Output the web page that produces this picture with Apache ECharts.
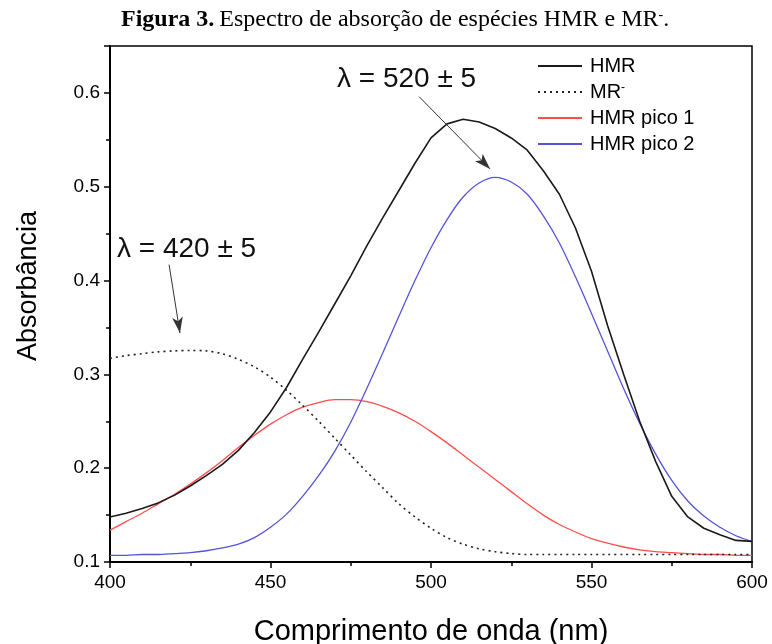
<!DOCTYPE html>
<html>
<head>
<meta charset="utf-8">
<script src="https://cdn.jsdelivr.net/npm/echarts@6/dist/echarts.min.js"></script>
<style>
  html, body { margin: 0; padding: 0; background: #fff; }
  #chart { width: 772px; height: 644px; }
</style>
</head>
<body>
<div id="chart"></div>
<script>
// comprimentos de onda (nm), passo de 5 nm
const wavelengths = [400,405,410,415,420,425,430,435,440,445,450,455,460,465,470,475,480,485,490,495,500,
                     505,510,515,520,525,530,535,540,545,550,555,560,565,570,575,580,585,590,595,600];

const hmr = [0.148,0.152,0.157,0.163,0.171,0.181,0.192,0.204,0.219,0.238,0.260,0.286,0.316,0.345,0.375,0.405,
             0.437,0.467,0.496,0.525,0.552,0.567,0.572,0.569,0.562,0.552,0.539,0.517,0.492,0.456,0.410,
             0.352,0.300,0.250,0.207,0.170,0.148,0.136,0.129,0.123,0.122];
const mr = [0.317,0.320,0.322,0.324,0.325,0.3255,0.325,0.322,0.316,0.308,0.297,0.283,0.267,0.250,0.232,0.214,
            0.196,0.179,0.162,0.148,0.136,0.126,0.119,0.114,0.111,0.109,0.108,0.108,0.108,0.108,0.108,
            0.108,0.108,0.108,0.108,0.108,0.108,0.108,0.108,0.108,0.108];
const pico1 = [0.134,0.143,0.152,0.162,0.172,0.183,0.195,0.208,0.222,0.235,0.247,0.257,0.265,0.270,0.273,0.273,
               0.271,0.266,0.259,0.250,0.239,0.227,0.214,0.201,0.188,0.175,0.162,0.150,0.140,0.132,0.125,
               0.120,0.116,0.113,0.111,0.110,0.109,0.108,0.108,0.107,0.107];
const pico2 = [0.107,0.107,0.108,0.108,0.109,0.110,0.112,0.115,0.119,0.126,0.137,0.151,0.170,0.192,0.218,0.249,
               0.285,0.323,0.362,0.400,0.435,0.465,0.489,0.504,0.510,0.505,0.492,0.469,0.440,0.404,0.365,
               0.325,0.285,0.248,0.215,0.187,0.165,0.149,0.137,0.128,0.122];

const xTicks = [400, 450, 500, 550, 600];
const yTicks = [0.1, 0.2, 0.3, 0.4, 0.5, 0.6];

function pairs(xs, ys) {
  return xs.map((x, i) => [x, ys[i]]);
}

const chart = echarts.init(document.getElementById('chart'));
const font = 'Liberation Sans, Arial, sans-serif';

const option = {
  animation: false,
  backgroundColor: '#fff',
  title: {
    left: 116,
    top: 3,
    text: '{b|Figura 3.} {r|Espectro de absorção de espécies HMR e MR}{s|-}{r|.}',
    textStyle: {
      rich: {
        b: {fontFamily: 'Liberation Serif', fontWeight: 'bold', fontSize: 24, color: '#000'},
        r: {fontFamily: 'Liberation Serif', fontWeight: 'normal', fontSize: 24, color: '#000'},
        s: {fontFamily: 'Liberation Serif', fontWeight: 'normal', fontSize: 14, color: '#000',
            verticalAlign: 'top', padding: [0, 0, 10, 0]}
      }
    }
  },
  grid: {
    left: 110, right: 20, top: 46, bottom: 82,
    outerBoundsMode: 'none',
    containLabel: false,
    show: true,
    borderColor: '#000',
    borderWidth: 1.5
  },
  legend: {
    orient: 'vertical',
    left: 532,
    top: 51,
    itemWidth: 44,
    itemHeight: 14,
    itemGap: 6,
    itemStyle: {color: 'transparent', borderWidth: 0},
    data: ['HMR', 'MR', 'HMR pico 1', 'HMR pico 2'],
    formatter: function (name) {
      if (name === 'MR') return '{a|MR}{s|-}';
      return '{a|' + name + '}';
    },
    textStyle: {
      rich: {
        a: {fontFamily: font, fontSize: 20, lineHeight: 18, color: '#000', padding: [0, 0, 0, 3]},
        s: {fontFamily: font, fontSize: 12, color: '#000', verticalAlign: 'top', padding: [0, 0, 8, 0]}
      }
    }
  },
  xAxis: {
    type: 'value',
    min: 400, max: 600, interval: 50,
    name: 'Comprimento de onda (nm)',
    nameLocation: 'middle',
    nameGap: 55,
    nameTextStyle: {fontFamily: font, fontSize: 29, color: '#000'},
    axisLine: {lineStyle: {color: '#000', width: 2}},
    axisTick: {length: 6, lineStyle: {color: '#000', width: 1.5}},
    minorTick: {show: true, splitNumber: 2, length: 4, lineStyle: {color: '#000', width: 1.5}},
    splitLine: {show: false},
    axisLabel: {fontFamily: font, fontSize: 19, color: '#000', margin: 11,
      formatter: v => xTicks.includes(v) ? String(v) : ''}
  },
  yAxis: {
    type: 'value',
    min: 0.1, max: 0.65, interval: 0.1,
    name: 'Absorbância',
    nameLocation: 'middle',
    nameGap: 68,
    nameTextStyle: {fontFamily: font, fontSize: 27, color: '#000', padding: [0, 0, 0, 36]},
    axisLine: {show: true, lineStyle: {color: '#000', width: 2}},
    axisTick: {show: true, length: 6, lineStyle: {color: '#000', width: 1.5}},
    minorTick: {show: true, splitNumber: 2, length: 4, lineStyle: {color: '#000', width: 1.5}},
    splitLine: {show: false},
    axisLabel: {fontFamily: font, fontSize: 19, color: '#000', margin: 10,
      formatter: v => {
        const r = Math.round(v * 10) / 10;
        return yTicks.includes(r) && Math.abs(v - r) < 1e-6 ? r.toFixed(1) : '';
      }}
  },
  series: [
    {
      name: 'HMR',
      type: 'line',
      symbol: 'none',
      data: pairs(wavelengths, hmr),
      lineStyle: {color: '#1a1a1a', width: 1.6},
      itemStyle: {color: '#1a1a1a'},
      z: 4,
      markLine: {
        silent: true,
        symbol: ['none', 'arrow'],
        symbolSize: [8, 16],
        label: {show: false},
        lineStyle: {color: '#333', width: 1, type: 'solid'},
        data: [
          [{coord: [496.3, 0.596]}, {coord: [518.4, 0.519]}],
          [{coord: [418.4, 0.417]}, {coord: [421.8, 0.344]}]
        ]
      }
    },
    {
      name: 'MR',
      type: 'line',
      symbol: 'none',
      smooth: 0.3,
      data: pairs(wavelengths, mr),
      lineStyle: {color: '#222', width: 1.6, type: [2, 4]},
      itemStyle: {color: '#222'},
      z: 3
    },
    {
      name: 'HMR pico 1',
      type: 'line',
      symbol: 'none',
      smooth: 0.3,
      data: pairs(wavelengths, pico1),
      lineStyle: {color: '#ff4d4d', width: 1.3},
      itemStyle: {color: '#ff4d4d'},
      z: 2
    },
    {
      name: 'HMR pico 2',
      type: 'line',
      symbol: 'none',
      smooth: 0.3,
      data: pairs(wavelengths, pico2),
      lineStyle: {color: '#5454d8', width: 1.3},
      itemStyle: {color: '#5454d8'},
      z: 2
    }
  ],
  graphic: [
    {type: 'text', left: 337, top: 65,
      style: {text: 'λ = 520 ± 5', fontFamily: font, fontSize: 28, fill: '#111'}},
    {type: 'text', left: 117, top: 235,
      style: {text: 'λ = 420 ± 5', fontFamily: font, fontSize: 28, fill: '#111'}}
  ]
};

chart.setOption(option);
</script>
</body>
</html>
